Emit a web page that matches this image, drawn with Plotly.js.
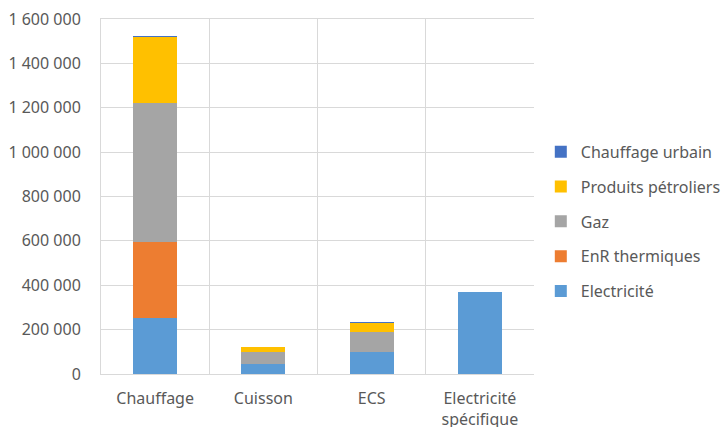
<!DOCTYPE html>
<html>
<head>
<meta charset="utf-8">
<script src="https://cdn.plot.ly/plotly-3.0.1.min.js"></script>
<style>
  html, body { margin: 0; padding: 0; background: #fff; }
  #chart { width: 723px; height: 427px; }
</style>
</head>
<body>
<div id="chart"></div>
<script>
// Usages (catégories de l'axe horizontal)
const usages = ['Chauffage', 'Cuisson', 'ECS', 'Electricité<br>spécifique'];

// Consommation par énergie et par usage
const electricite      = [251000, 45000, 99000, 368000];
const enrThermiques    = [343000, 0, 0, 0];
const gaz              = [628000, 54000, 89000, 0];
const produitsPetrol   = [298000, 21000, 40000, 0];
const chauffageUrbain  = [4000, 0, 5000, 0];

const seriesNames  = ['Electricité', 'EnR thermiques', 'Gaz', 'Produits pétroliers', 'Chauffage urbain'];
const seriesValues = [electricite, enrThermiques, gaz, produitsPetrol, chauffageUrbain];
const seriesColors = ['#5B9BD5', '#ED7D31', '#A5A5A5', '#FFC000', '#4472C4'];

// Stacked from the bottom up; the legend lists the top layer first
const traces = seriesNames.map((name, i) => ({
  type: 'bar',
  name: name,
  x: usages,
  y: seriesValues[i],
  marker: { color: seriesColors[i], line: { width: 0 } },
  legendgroup: 'g' + i,
  legendrank: seriesNames.length - i,
  hoverinfo: 'x+y+name'
}));

const font = { family: 'Noto Sans, sans-serif', size: 16, color: '#595959' };

const layout = {
  width: 723,
  height: 427,
  margin: { l: 101, r: 189, t: 19, b: 53, autoexpand: false },
  paper_bgcolor: '#ffffff',
  plot_bgcolor: '#ffffff',
  font: font,
  barmode: 'stack',
  bargap: 0.595,
  separators: ', ',
  showlegend: true,
  legend: {
    xref: 'container',
    x: 0.748, xanchor: 'left',
    y: 0.43, yanchor: 'middle',
    traceorder: 'grouped',
    tracegroupgap: 11,
    font: font,
    bgcolor: 'rgba(0,0,0,0)'
  },
  xaxis: {
    type: 'category',
    tickson: 'boundaries',
    showgrid: true,
    gridcolor: '#d9d9d9',
    gridwidth: 1,
    showline: true,
    linecolor: '#d9d9d9',
    linewidth: 1,
    mirror: true,
    ticks: '',
    ticklabelstandoff: 10,
    tickfont: font,
    fixedrange: true
  },
  yaxis: {
    range: [0, 1600000],
    tickvals: [0, 200000, 400000, 600000, 800000, 1000000, 1200000, 1400000, 1600000],
    tickformat: ',d',
    showgrid: true,
    gridcolor: '#d9d9d9',
    gridwidth: 1,
    zeroline: false,
    showline: true,
    linecolor: '#d9d9d9',
    ticks: '',
    ticklabelstandoff: 16,
    tickfont: font,
    fixedrange: true
  }
};

Plotly.newPlot('chart', traces, layout, { displayModeBar: false, staticPlot: true });
</script>
</body>
</html>
